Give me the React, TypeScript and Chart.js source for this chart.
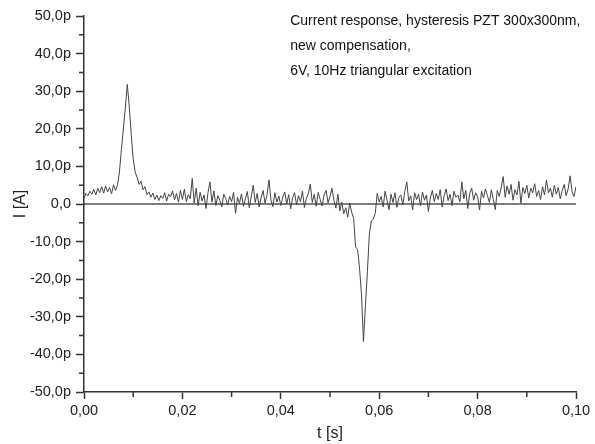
import React, { useEffect, useRef } from "react";
import { Chart, registerables } from "chart.js";

Chart.register(...registerables);

// Sampling of the measured current trace
const T_START = 0; // s
const T_STEP = 0.0004; // s

// Current in pA
const CURRENT_PA = [
  1.5, 2.8, 2.2, 3.4, 2.6, 3.9, 2.4, 4.2, 3.0, 4.6,
  2.9, 4.8, 3.2, 4.4, 2.7, 5.1, 3.6, 5.0, 8.5, 14.5,
  20.0, 25.5, 31.8, 26.0, 18.5, 12.0, 8.5, 7.0, 5.2, 6.0,
  3.8, 4.6, 2.5, 3.2, 1.8, 2.9, 1.2, 2.4, 0.9, 2.2,
  1.5, 3.0, 0.8, 2.6, 1.9, 3.5, 1.1, 2.8, 0.5, 3.6,
  1.2, 4.0, 0.6, 2.5, 1.4, 6.8, 0.3, 4.2, -0.5, 3.1,
  0.8, 2.4, -1.2, 3.0, 5.9, 0.5, 3.5, -0.4, 2.2, 1.0,
  -0.8, 2.6, 1.5, -0.3, 2.0, 0.6, 3.1, -2.5, 1.8, 0.2,
  2.7, -0.6, 1.4, 3.3, -1.0, 2.0, 5.0, 0.4, 2.8, -0.8,
  1.6, 3.6, 0.2, 2.4, 6.4, 1.0, -0.7, 3.0, 0.5, 2.1,
  -0.4, 1.8, 3.2, 0.0, 2.5, -1.3, 1.6, 3.0, -0.2, 2.2,
  0.6, 3.4, -0.9, 1.5, 2.8, 5.3, 0.4, 2.6, -0.6, 3.1,
  1.2, -0.5, 2.4, 3.6, 0.3, 2.0, 4.2, 1.0, -1.1, 2.6,
  -1.8, 0.5, -2.6, -1.0, -3.5, 0.2, -2.2, -3.8, -11.5, -12.0,
  -17.0, -24.0, -36.6, -27.0, -18.0, -8.0, -4.5, -4.0, -2.5, 2.8,
  0.5, 2.0, -0.8, 3.4, 1.0, -1.5, 2.6, 0.4, 3.0, -0.9,
  1.8, 2.4, -0.2, 3.3, 5.9, 0.8, 2.2, -1.6, 3.0, 1.2,
  2.6, -0.5, 3.2, 1.0, 2.4, -2.0, 1.6, 3.6, 0.6, 2.8,
  1.2, 3.8, -0.8, 2.2, 4.0, 0.9, 2.6, -0.4, 3.4, 1.8,
  2.4, 0.6, 5.9, 1.4, 3.6, -1.2, 2.8, 4.2, 1.0, 3.0,
  2.0, -1.6, 3.4, 1.6, 4.0, 2.2, 0.4, 3.8, 1.2, -1.5,
  3.6, 2.0, 4.4, 7.3, 1.8, 4.8, 2.6, 5.2, 1.0, 3.8,
  2.4, 6.0, 0.2, 4.4, 2.8, 5.0, 1.6, 4.2, 3.0, 5.4,
  2.0, 3.6, 1.2, 4.6, 2.4, 6.4, 3.0, 4.2, 1.8, 5.0,
  2.6, 4.4, 1.4, 3.6, 5.2, 2.2, 4.0, 7.5, 3.2, 2.0, 4.6,
];

// Zero reference line
const ZERO_LINE_T = [0, 0.1];
const ZERO_LINE_I = [0, 0];

// Axes
const X_MIN = 0;
const X_MAX = 0.1;
const X_STEP = 0.02;
const X_MINOR = [0.01, 0.03, 0.05, 0.07, 0.09];
const Y_MIN = -50;
const Y_MAX = 50;
const Y_STEP = 10;
const Y_MINOR = [-45, -35, -25, -15, -5, 5, 15, 25, 35, 45];

const X_TITLE = "t [s]";
const Y_TITLE = "I [A]";
const ANNOTATION = [
  "Current response, hysteresis PZT 300x300nm,",
  "new compensation,",
  "6V, 10Hz triangular excitation",
];

const FONT = "'Liberation Sans', Arial, sans-serif";
const AXIS_COLOR = "#333";

export default function App() {
  const ref = useRef<HTMLCanvasElement | null>(null);

  useEffect(() => {
    document.body.style.margin = "0";
    const canvas = ref.current;
    if (!canvas) return;

    const extras = {
      id: "extras",
      afterDraw(chart: any) {
        const ctx = chart.ctx;
        const xs = chart.scales.x;
        const ys = chart.scales.y;
        const area = chart.chartArea;
        ctx.save();
        ctx.strokeStyle = AXIS_COLOR;
        ctx.lineWidth = 1.5;
        ctx.beginPath();
        Y_MINOR.forEach((v) => {
          const py = ys.getPixelForValue(v);
          ctx.moveTo(area.left - 5, py);
          ctx.lineTo(area.left, py);
        });
        X_MINOR.forEach((v) => {
          const px = xs.getPixelForValue(v);
          ctx.moveTo(px, area.bottom);
          ctx.lineTo(px, area.bottom + 5);
        });
        ctx.stroke();

        ctx.fillStyle = "#111";
        ctx.font = `14px ${FONT}`;
        ctx.textAlign = "left";
        ctx.textBaseline = "middle";
        const ax = xs.getPixelForValue(0.0419);
        ANNOTATION.forEach((line, k) => {
          ctx.fillText(line, ax, 21 + k * 25);
        });
        ctx.restore();
      },
    };

    const chart = new Chart(canvas, {
      type: "line",
      data: {
        datasets: [
          {
            data: CURRENT_PA.map((v, i) => ({ x: T_START + i * T_STEP, y: v })),
            borderColor: "#444",
            borderWidth: 1,
            pointRadius: 0,
            tension: 0,
            fill: false,
          },
          {
            data: ZERO_LINE_T.map((t, i) => ({ x: t, y: ZERO_LINE_I[i] })),
            borderColor: "#000",
            borderWidth: 1.2,
            pointRadius: 0,
            fill: false,
          },
        ],
      },
      options: {
        animation: false,
        responsive: false,
        events: [],
        layout: { padding: { left: 0, top: 16, right: 19, bottom: 0 } },
        plugins: {
          legend: { display: false },
          tooltip: { enabled: false },
        },
        scales: {
          x: {
            type: "linear",
            min: X_MIN,
            max: X_MAX,
            afterFit: (s: any) => {
              s.height = 52;
            },
            ticks: {
              stepSize: X_STEP,
              color: "#222",
              font: { family: FONT, size: 14.5 },
              padding: 3,
              maxRotation: 0,
              callback: (v: any) => Number(v).toFixed(2).replace(".", ","),
            },
            grid: {
              drawOnChartArea: false,
              drawTicks: true,
              tickLength: 7,
              tickWidth: 1.5,
              tickColor: AXIS_COLOR,
            },
            border: { display: true, color: AXIS_COLOR, width: 1.5 },
            title: {
              display: true,
              text: X_TITLE,
              color: "#222",
              font: { family: FONT, size: 16 },
              padding: { top: 0, bottom: 1 },
            },
          },
          y: {
            type: "linear",
            min: Y_MIN,
            max: Y_MAX,
            afterFit: (s: any) => {
              s.width = 84;
            },
            ticks: {
              stepSize: Y_STEP,
              color: "#222",
              font: { family: FONT, size: 14.5 },
              padding: 5,
              callback: (v: any) => {
                const n = Number(v);
                if (Math.abs(n) < 1e-9) return "0,0";
                return n.toFixed(1).replace(".", ",") + "p";
              },
            },
            grid: {
              drawOnChartArea: false,
              drawTicks: true,
              tickLength: 8,
              tickWidth: 1.5,
              tickColor: AXIS_COLOR,
            },
            border: { display: true, color: AXIS_COLOR, width: 1.5 },
            title: {
              display: true,
              text: Y_TITLE,
              color: "#222",
              font: { family: FONT, size: 16 },
              padding: { top: 11, bottom: 0 },
            },
          },
        },
      },
      plugins: [extras],
    } as any);

    return () => {
      chart.destroy();
    };
  }, []);

  return (
    <div style={{ width: 595, height: 444, background: "#fff" }}>
      <canvas ref={ref} width={595} height={444} />
    </div>
  );
}
